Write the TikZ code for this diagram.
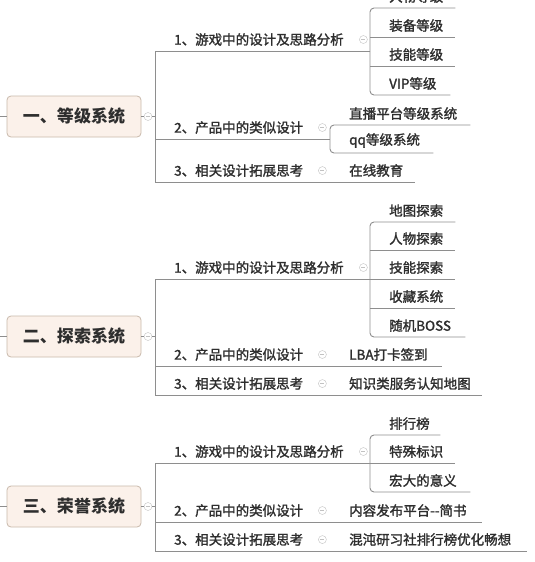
\documentclass[tikz,border=0pt]{standalone}
\usepackage{fontspec}
\newfontfamily\cjk{Noto Sans CJK SC}
\newfontfamily\cjkm{Noto Sans CJK SC}[FakeBold=1.6]
\definecolor{rootfill}{HTML}{FBF1EA}
\definecolor{rootline}{HTML}{C9B9AB}
\definecolor{ink}{HTML}{2E2E2E}
\definecolor{wirecol}{HTML}{8E8E8E}
\definecolor{foldcol}{HTML}{C2C2C2}
\tikzset{
  root/.style={draw=rootline, fill=rootfill, rounded corners=4pt, line width=0.8pt,
    minimum width=134pt, minimum height=41pt, text=ink,
    font=\cjk\bfseries\fontsize{17}{20}\selectfont},
  item/.style={anchor=south west, inner xsep=0pt, inner ysep=5pt, text width=#1,
    align=left, text=ink, font=\cjkm\fontsize{13.5}{16}\selectfont,
    execute at begin node=\hspace*{19pt}},
  fold/.style={circle, draw=foldcol, fill=white, inner sep=0pt, minimum size=8pt,
    path picture={\draw[foldcol] ([xshift=-2pt]path picture bounding box.center)
      -- ([xshift=2pt]path picture bounding box.center);}},
  wire/.style={draw=wirecol, line width=0.9pt}
}
\begin{document}
\begin{tikzpicture}[x=1pt, y=-1pt]
\clip (0,0) rectangle (535,562);
\fill[white] (0,0) rectangle (535,562);

\node[root] (r1) at (74,116.5) {一、等级系统};
\coordinate (e1) at (0,116.5);
\node[fold] (k1) at (148,116.5) {};
\node[item=215pt] (b11) at (155,51) {1、游戏中的设计及思路分析};
\node[item=175pt] (b12) at (155,139) {2、产品中的类似设计};
\node[item=175pt] (b13) at (155,182) {3、相关设计拓展思考};
\foreach \n/\y/\w/\t in {1/8/85/人物等级, 2/37/85/装备等级, 3/66/85/技能等级, 4/95/80/VIP等级}
  \node[item=\w pt] (s1\n) at (370,\y) {\t};
\node[item=140pt] (s121) at (330,125) {直播平台等级系统};
\node[item=103pt] (s122) at (330,153) {qq等级系统};
\node[item=85pt] (s131) at (330,182) {在线教育};
\draw[wire] (e1) -- (r1.west) (r1.east) -- (k1.west) (k1.east) -- (k1 -| b11.south west);
\draw[wire] (b11.south east) -- (b11.south west) -- (b13.south west) -- (s131.south east);
\draw[wire] (b12.south west) -- (b12.south east);
\draw[wire, rounded corners=4pt] (s11.south east) -- (s11.south west) -- (s14.south west) -- (s14.south east);
\draw[wire] (s12.south west) -- (s12.south east) (s13.south west) -- (s13.south east);
\draw[wire, rounded corners=4pt] (s121.south east) -- (s121.south west) -- (s122.south west) -- (s122.south east);
\node[fold] (k11) at ([xshift=-7pt]b11.east) {};
\node[fold] (k12) at ([xshift=-8pt]b12.east) {};
\node[fold] (k13) at ([xshift=-8pt]b13.east) {};

\node[root] (r2) at (74,336.5) {二、探索系统};
\coordinate (e2) at (0,336.5);
\node[fold] (k2) at (148,336.5) {};
\node[item=215pt] (b21) at (155,279) {1、游戏中的设计及思路分析};
\node[item=175pt] (b22) at (155,366) {2、产品中的类似设计};
\node[item=175pt] (b23) at (155,395) {3、相关设计拓展思考};
\foreach \n/\y/\w/\t in {1/222/85/地图探索, 2/250/85/人物探索, 3/279/85/技能探索, 4/308/85/收藏系统, 5/337/95/随机BOSS}
  \node[item=\w pt] (s2\n) at (370,\y) {\t};
\node[item=112pt] (s221) at (330,366) {LBA打卡签到};
\node[item=152pt] (s231) at (330,395) {知识类服务认知地图};
\draw[wire] (e2) -- (r2.west) (r2.east) -- (k2.west) (k2.east) -- (k2 -| b21.south west);
\draw[wire] (b21.south east) -- (b21.south west) -- (b23.south west) -- (s231.south east);
\draw[wire] (b22.south west) -- (s221.south east);
\draw[wire, rounded corners=4pt] (s21.south east) -- (s21.south west) -- (s25.south west) -- (s25.south east);
\foreach \n in {2,3,4}
  \draw[wire] (s2\n.south west) -- (s2\n.south east);
\node[fold] (k21) at ([xshift=-7pt]b21.east) {};
\node[fold] (k22) at ([xshift=-8pt]b22.east) {};
\node[fold] (k23) at ([xshift=-8pt]b23.east) {};

\node[root] (r3) at (74,506.5) {三、荣誉系统};
\coordinate (e3) at (0,506.5);
\node[fold] (k3) at (148,506.5) {};
\node[item=215pt] (b31) at (155,463) {1、游戏中的设计及思路分析};
\node[item=175pt] (b32) at (155,522) {2、产品中的类似设计};
\node[item=175pt] (b33) at (155,551) {3、相关设计拓展思考};
\foreach \n/\y/\w/\t in {1/435/70/排行榜, 2/463/85/特殊标识, 3/492/100/宏大的意义}
  \node[item=\w pt] (s3\n) at (370,\y) {\t};
\node[item=152pt] (s321) at (330,522) {内容发布平台{-}{-}简书};
\node[item=197pt] (s331) at (330,551) {混沌研习社排行榜优化畅想};
\draw[wire] (e3) -- (r3.west) (r3.east) -- (k3.west) (k3.east) -- (k3 -| b31.south west);
\draw[wire] (b31.south east) -- (b31.south west) -- (b33.south west) -- (s331.south east);
\draw[wire] (b32.south west) -- (s321.south east);
\draw[wire, rounded corners=4pt] (s31.south east) -- (s31.south west) -- (s33.south west) -- (s33.south east);
\draw[wire] (s32.south west) -- (s32.south east);
\node[fold] (k31) at ([xshift=-7pt]b31.east) {};
\node[fold] (k32) at ([xshift=-8pt]b32.east) {};
\node[fold] (k33) at ([xshift=-8pt]b33.east) {};
\end{tikzpicture}
\end{document}
